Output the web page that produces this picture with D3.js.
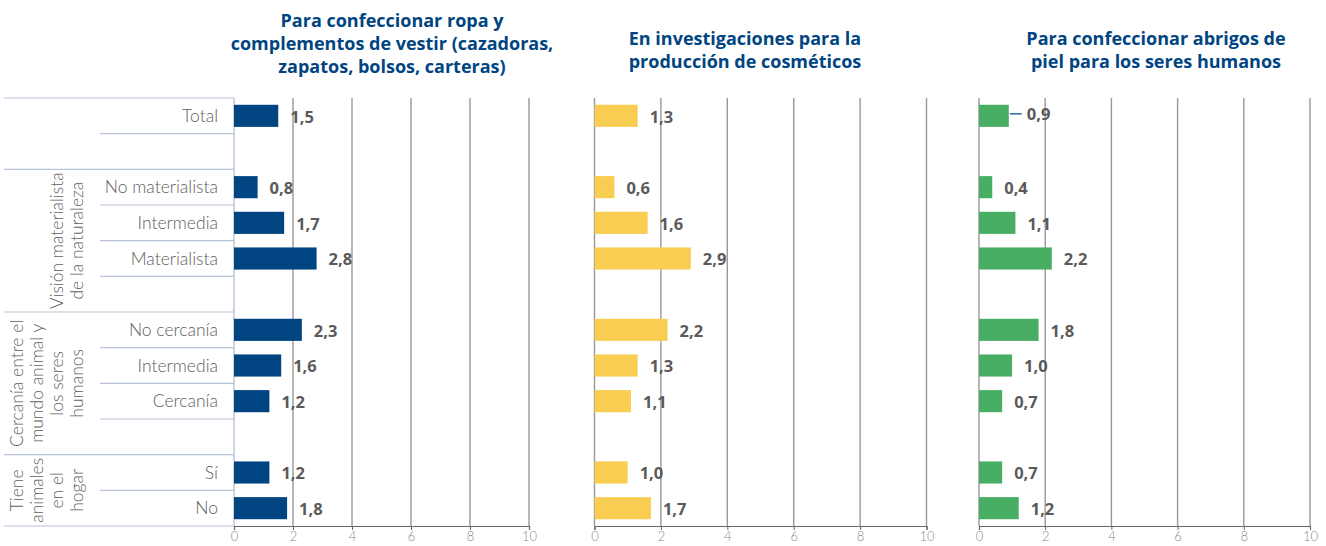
<!DOCTYPE html>
<html>
<head>
<meta charset="utf-8">
<script src="https://cdn.jsdelivr.net/npm/d3@7"></script>
<style>
  body { margin: 0; background: #fff; }
  svg { display: block; }
  .rowLabel { font-family: Lato, sans-serif; font-weight: 300; font-size: 17.5px; fill: #5e5e5e; }
  .groupLabel { font-family: Lato, sans-serif; font-weight: 300; font-size: 17.5px; fill: #5e5e5e; }
  .title { font-family: "Open Sans", sans-serif; font-weight: bold; font-size: 18px; fill: #004481; }
  .val { font-family: "Open Sans", sans-serif; font-weight: bold; font-size: 16.5px; fill: #5a5a5a; }
  .tick text { font-family: Lato, sans-serif; font-weight: 300; font-size: 13px; fill: #8a8a8a; }
</style>
</head>
<body>
<div id="chart"></div>
<script>
    // rows of the table, "" = empty spacer row
    var rows = ["Total", "", "No materialista", "Intermedia", "Materialista", "",
                "No cercanía", "Intermedia", "Cercanía", "", "Sí", "No"];

    var ropa       = [1.5, null, 0.8, 1.7, 2.8, null, 2.3, 1.6, 1.2, null, 1.2, 1.8];
    var cosmeticos = [1.3, null, 0.6, 1.6, 2.9, null, 2.2, 1.3, 1.1, null, 1.0, 1.7];
    var abrigos    = [0.9, null, 0.4, 1.1, 2.2, null, 1.8, 1.0, 0.7, null, 0.7, 1.2];

    var groupNames = [["Visión materialista", "de la naturaleza"],
                      ["Cercanía entre el", "mundo animal y", "los seres", "humanos"],
                      ["Tiene", "animales", "en el", "hogar"]];
    var groupRows = [[2, 5], [6, 9], [10, 11]];

    var titles = [["Para confeccionar ropa y", "complementos de vestir (cazadoras,", "zapatos, bolsos, carteras)"],
                  ["En investigaciones para la", "producción de cosméticos"],
                  ["Para confeccionar abrigos de", "piel para los seres humanos"]];

    var ticks = [0, 2, 4, 6, 8, 10];

    var width = 1326,
        height = 546,
        plotTop = 98,
        plotBottom = 526;

    var lineColor = "#b8c2d8";

    var panels = [
      {values: ropa, color: "#004481", x0: 234, x1: 529, titleX: 392, titleY: 27},
      {values: cosmeticos, color: "#f8cd51", x0: 594.5, x1: 926.5, titleX: 745, titleY: 45},
      {values: abrigos, color: "#48ae64", x0: 979, x1: 1310, titleX: 1156, titleY: 45}
    ];

    var svg = d3.select("#chart").append("svg")
      .attr("width", width)
      .attr("height", height);

    var y = d3.scaleBand()
      .domain(d3.range(rows.length))
      .range([plotTop, plotBottom])
      .paddingInner(0.38)
      .paddingOuter(0.19);

    var step = y.step();
    function edge(i) { return plotTop + i * step; }

    // left table
    var table = svg.append("g");
    var longEdges = [0, 2, 6, 10, 12];
    d3.range(rows.length + 1).forEach(function(i) {
      var isLong = longEdges.indexOf(i) >= 0;
      table.append("line")
        .attr("x1", isLong ? 4 : 100)
        .attr("x2", panels[0].x0)
        .attr("y1", edge(i)).attr("y2", edge(i))
        .attr("stroke", lineColor)
        .attr("stroke-width", 1.2);
    });

    table.selectAll(".rowLabel")
      .data(rows)
      .enter().append("text")
      .attr("class", "rowLabel")
      .attr("x", 218)
      .attr("y", function(d, i) { return y(i) + y.bandwidth() / 2; })
      .attr("dy", "0.35em")
      .attr("text-anchor", "end")
      .text(function(d) { return d; });

    groupNames.forEach(function(lines, g) {
      var cy = (edge(groupRows[g][0]) + edge(groupRows[g][1] + 1)) / 2;
      var n = lines.length;
      lines.forEach(function(t, k) {
        var cx = 77 - 20 * (n - 1 - k);
        table.append("text")
          .attr("class", "groupLabel")
          .attr("transform", "translate(" + cx + "," + cy + ") rotate(-90)")
          .attr("text-anchor", "middle")
          .attr("dy", "0.35em")
          .text(t);
      });
    });

    function fmt(v) { return v.toFixed(1).replace(".", ","); }

    panels.forEach(function(p, pi) {
      var x = d3.scaleLinear().domain([0, 10]).range([p.x0, p.x1]);
      var g = svg.append("g");

      // title
      var title = g.append("text")
        .attr("class", "title")
        .attr("text-anchor", "middle");
      titles[pi].forEach(function(t, k) {
        title.append("tspan")
          .attr("x", p.titleX)
          .attr("y", p.titleY + k * 23)
          .text(t);
      });

      // grid
      g.selectAll(".grid")
        .data(ticks)
        .enter().append("line")
        .attr("x1", function(d) { return x(d); })
        .attr("x2", function(d) { return x(d); })
        .attr("y1", plotTop)
        .attr("y2", plotBottom)
        .attr("stroke", function(d) { return (pi == 0 && d == 0) ? lineColor : "#999"; })
        .attr("stroke-width", 1.4);

      // axis
      var axis = g.append("g")
        .attr("transform", "translate(0," + plotBottom + ")")
        .call(d3.axisBottom(x).tickValues(ticks).tickSize(4).tickPadding(2));
      axis.select(".domain").attr("stroke", "#666").attr("stroke-width", 1.2);
      axis.selectAll(".tick line").attr("stroke", "#666");

      var data = p.values.map(function(v, i) { return {v: v, i: i}; })
        .filter(function(d) { return d.v != null; });

      g.selectAll(".bar")
        .data(data)
        .enter().append("rect")
        .attr("x", x(0))
        .attr("y", function(d) { return y(d.i); })
        .attr("width", function(d) { return x(d.v) - x(0); })
        .attr("height", y.bandwidth())
        .attr("fill", p.color);

      // leader line on the total of the last panel
      var lead = (pi == 2);
      if (lead) {
        g.append("line")
          .attr("x1", x(data[0].v) + 1)
          .attr("x2", x(data[0].v) + 13)
          .attr("y1", y(0) + y.bandwidth() / 2 - 2)
          .attr("y2", y(0) + y.bandwidth() / 2 - 2)
          .attr("stroke", "#004481")
          .attr("stroke-width", 1.2);
      }

      g.selectAll(".val")
        .data(data)
        .enter().append("text")
        .attr("class", "val")
        .attr("x", function(d) { return x(d.v) + ((lead && d.i == 0) ? 18 : 12); })
        .attr("y", function(d) { return y(d.i) + y.bandwidth() / 2 + ((lead && d.i == 0) ? -2 : 1); })
        .attr("dy", "0.35em")
        .text(function(d) { return fmt(d.v); });
    });
</script>
</body>
</html>
